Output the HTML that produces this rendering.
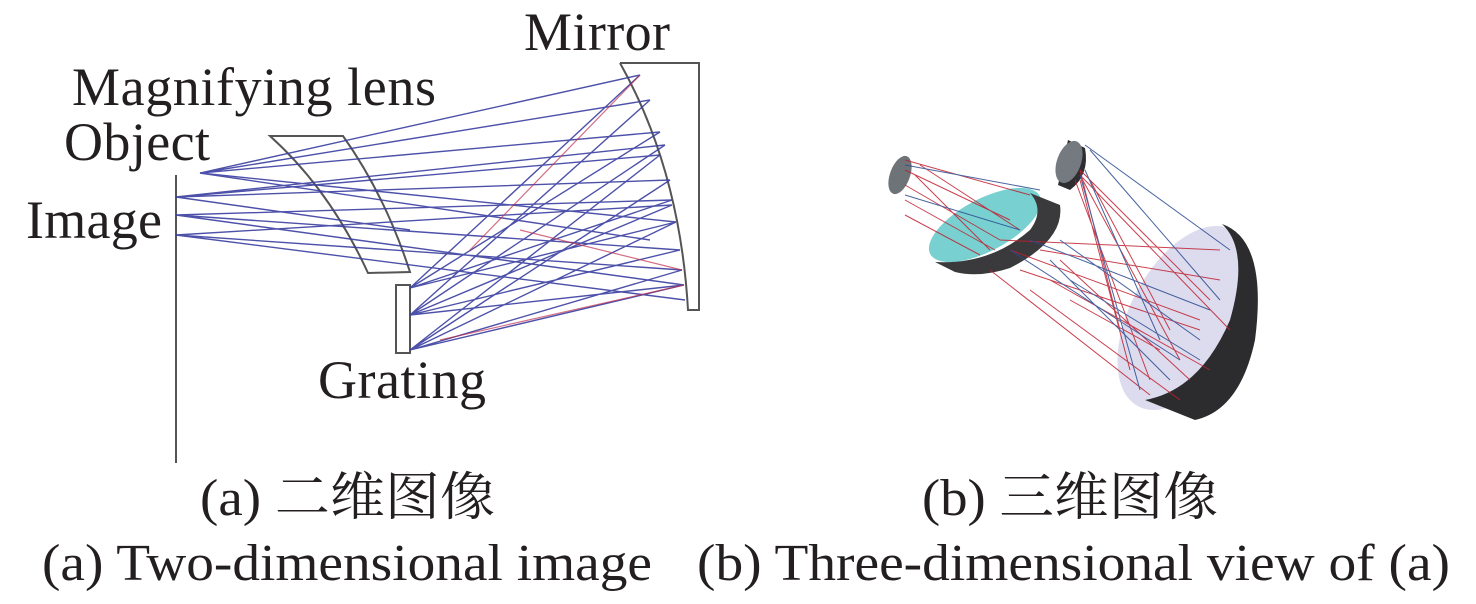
<!DOCTYPE html>
<html><head><meta charset="utf-8"><style>
html,body{margin:0;padding:0;background:#fff;}
svg{display:block}
text{font-family:"Liberation Serif","Noto Serif CJK SC",serif;fill:#231f20;}
</style></head><body>
<svg width="1476" height="604" viewBox="0 0 1476 604" xmlns="http://www.w3.org/2000/svg">
<g stroke="#555" stroke-width="2" fill="none">
<line x1="176" y1="175" x2="176" y2="463"/>
<path d="M270 136 L343 136 Q385 195 410 272 L368 273 Q330 190 270 136 Z" fill="#fff"/>
<rect x="396" y="285" width="14" height="68" fill="#fff"/>
<path d="M620 63 L699 63 L699 310 L688 310 Q680 170 620 63"/>
</g>
<g stroke="#3a3fa0" stroke-width="1.4" fill="none" opacity="0.9">
<path d="M200 173 L640 75 M200 173 L650 100 M200 173 L660 132 M176 197 L665 145 M176 197 L670 180 M176 215 L672 200 M176 215 L680 250 M176 235 L682 270 M176 235 L672 205 M176 197 L660 155 M200 173 L676 222 M176 215 L684 285"/>
<path d="M640 75 L410 288 M650 100 L410 315 M660 132 L410 288 M665 145 L410 315 M670 180 L410 350 M672 200 L410 288 M680 250 L410 315 M682 270 L410 350 M676 222 L410 350 M684 285 L410 350 M672 205 L410 315 M660 155 L410 350 M684 285 L410 315 M676 222 L410 288"/>
<path d="M176 197 L410 230 M176 235 L685 300 M200 173 L650 240"/>
</g>
<g stroke="#c03050" stroke-width="1.2" fill="none" opacity="0.7">
<path d="M640 75 L470 250 M684 285 L440 340 M682 270 L520 230"/>
</g>
<g>
<ellipse cx="1185" cy="318" rx="55" ry="100" transform="rotate(28 1185 318)" fill="#dcdcee"/>
<path d="M1222 224 Q1268 240 1255 340 Q1240 410 1195 420 L1145 400 Q1200 390 1230 320 Q1250 250 1222 224 Z" fill="#2c2c2e"/>
<ellipse cx="985" cy="225" rx="62" ry="26" transform="rotate(-28 985 225)" fill="#78d0d0"/>
<path d="M1030 193 L1060 205 Q1065 240 1010 268 Q980 278 955 272 L935 262 Q990 265 1030 230 Q1045 210 1030 193 Z" fill="#3a3a3c"/>
<ellipse cx="900" cy="175" rx="10" ry="20" transform="rotate(20 900 175)" fill="#6e7378"/>
<path d="M1068 140 L1085 148 Q1090 175 1070 190 L1058 185 Z" fill="#2e2e30"/>
<ellipse cx="1069" cy="162" rx="12" ry="22" transform="rotate(20 1069 162)" fill="#747a80"/>
</g>
<g stroke-width="1" fill="none" opacity="0.85">
<path stroke="#c02030" d="M905 160 L1030 195 M905 170 L1010 220 M905 185 L1000 240 M905 200 L995 250 M905 215 L980 255 M1000 240 L1220 250 M1010 250 L1200 320 M990 270 L1150 395 M1080 170 L1210 300 M1080 175 L1180 360 M1075 180 L1150 380 M1080 170 L1120 330 M1020 270 L1200 330 M1040 250 L1220 280 M1060 260 L1190 380 M1080 175 L1230 330 M1090 180 L1170 330 M1050 280 L1210 370 M1070 300 L1160 350 M1080 180 L1130 370 M1030 290 L1180 400 M920 165 L1020 230 M915 175 L990 250"/>
<path stroke="#2a4a90" d="M1085 145 L1230 250 M905 165 L1040 190 M905 195 L1020 230 M1010 250 L1180 360 M1030 240 L1210 310 M1080 175 L1140 390 M1060 240 L1200 340 M1090 150 L1220 300 M1050 260 L1170 380 M1070 280 L1200 360 M1085 170 L1160 340"/>
</g>
<g font-size="54" lengthAdjust="spacingAndGlyphs">
<text x="524" y="50" textLength="146">Mirror</text>
<text x="72" y="105" textLength="364">Magnifying lens</text>
<text x="64" y="160" textLength="146">Object</text>
<text x="26" y="238" textLength="136">Image</text>
<text x="318" y="398" textLength="168">Grating</text>
</g>
<g font-size="52">
<text x="200" y="515" textLength="295" lengthAdjust="spacingAndGlyphs">(a) 二维图像</text>
<text x="922" y="515" textLength="296" lengthAdjust="spacingAndGlyphs">(b) 三维图像</text>
<text x="42" y="580" textLength="610" lengthAdjust="spacingAndGlyphs">(a) Two-dimensional image</text>
<text x="697" y="580" textLength="753" lengthAdjust="spacingAndGlyphs">(b) Three-dimensional view of (a)</text>
</g>
</svg>
</body></html>
